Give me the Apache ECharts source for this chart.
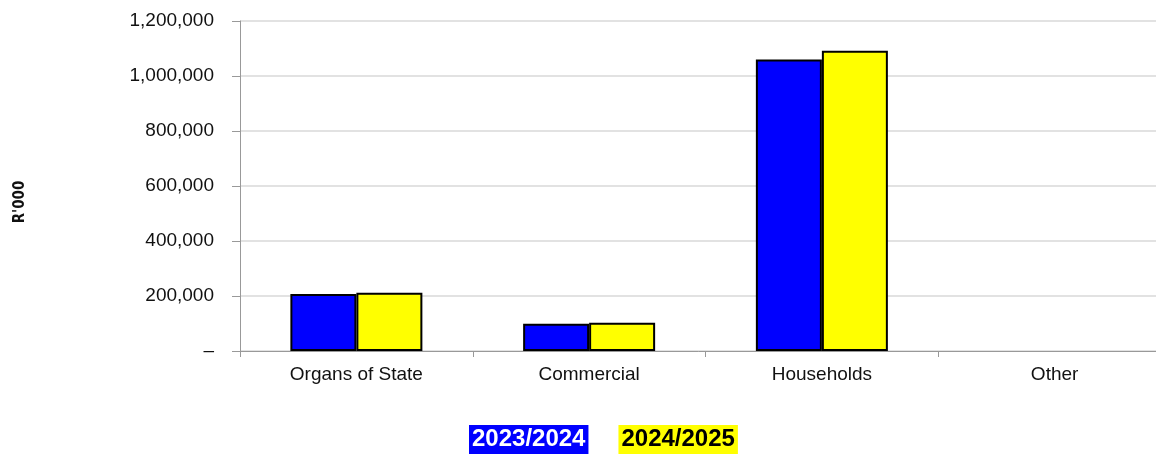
<!DOCTYPE html>
<html>
<head>
<meta charset="utf-8">
<script src="https://cdn.jsdelivr.net/npm/echarts@6/dist/echarts.min.js"></script>
<style>html,body{margin:0;padding:0;background:#fff}#c{width:1156px;height:454px}</style>
</head>
<body>
<div id="c"></div>
<script>
const categories = ['Organs of State', 'Commercial', 'Households', 'Other'];
const seriesNames = ['2023/2024', '2024/2025'];
const values2023 = [207000, 99000, 1060000, 0];
const values2024 = [212000, 103000, 1092000, 0];
const yTicks = [0, 200000, 400000, 600000, 800000, 1000000, 1200000];
const yTitle = "R'000";

const chart = echarts.init(document.getElementById('c'));
const fmt = v => v === 0 ? '–' : v.toLocaleString('en-US');
const toData = arr => arr.map(v => v === 0 ? { value: v, itemStyle: { borderWidth: 0 } } : v);
chart.setOption({
  animation: false,
  backgroundColor: '#fff',
  grid: { left: 240, top: 21, height: 330, width: 931, containLabel: false, outerBoundsMode: 'none' },
  legend: {
    left: 464, top: 425, padding: 0, itemGap: 25,
    icon: 'none', itemWidth: 0, itemHeight: 0,
    selectedMode: false,
    data: [
      { name: seriesNames[0], textStyle: { color: '#fff', backgroundColor: '#0000ff', padding: [3, 3, 2, 3] } },
      { name: seriesNames[1], textStyle: { color: '#000', backgroundColor: '#ffff00', padding: [3, 3, 2, 3] } }
    ],
    textStyle: { fontFamily: 'Liberation Sans', fontWeight: 'bold', fontSize: 24, lineHeight: 24 }
  },
  graphic: [{
    type: 'text', x: 20, y: 202, rotation: Math.PI / 2,
    style: { text: yTitle, fill: '#111', font: 'bold 15px "DejaVu Sans Condensed", "Liberation Sans", sans-serif',
             align: 'center', verticalAlign: 'middle' }
  }],
  xAxis: {
    type: 'category', data: categories,
    axisLine: { lineStyle: { color: '#999', width: 1 } },
    axisTick: { show: true, length: 6, lineStyle: { color: '#999' } },
    axisLabel: { color: '#111', fontFamily: 'Liberation Sans', fontSize: 19, margin: 14 }
  },
  yAxis: {
    type: 'value', min: yTicks[0], max: yTicks[yTicks.length - 1], interval: 200000,
    axisLine: { show: true, lineStyle: { color: '#999' } },
    axisTick: { show: true, length: 8, lineStyle: { color: '#999' } },
    axisLabel: { formatter: fmt, color: '#111', fontFamily: 'Liberation Sans', fontSize: 19, margin: 26 },
    splitLine: { lineStyle: { color: '#d9d9d9', width: 1.5 } }
  },
  series: [
    { name: seriesNames[0], type: 'bar', data: toData(values2023), barWidth: 66, barGap: '0%',
      itemStyle: { color: '#0000ff', borderColor: '#000', borderWidth: 2 } },
    { name: seriesNames[1], type: 'bar', data: toData(values2024), barWidth: 66, barGap: '0%',
      itemStyle: { color: '#ffff00', borderColor: '#000', borderWidth: 2 } }
  ]
});
</script>
</body>
</html>
